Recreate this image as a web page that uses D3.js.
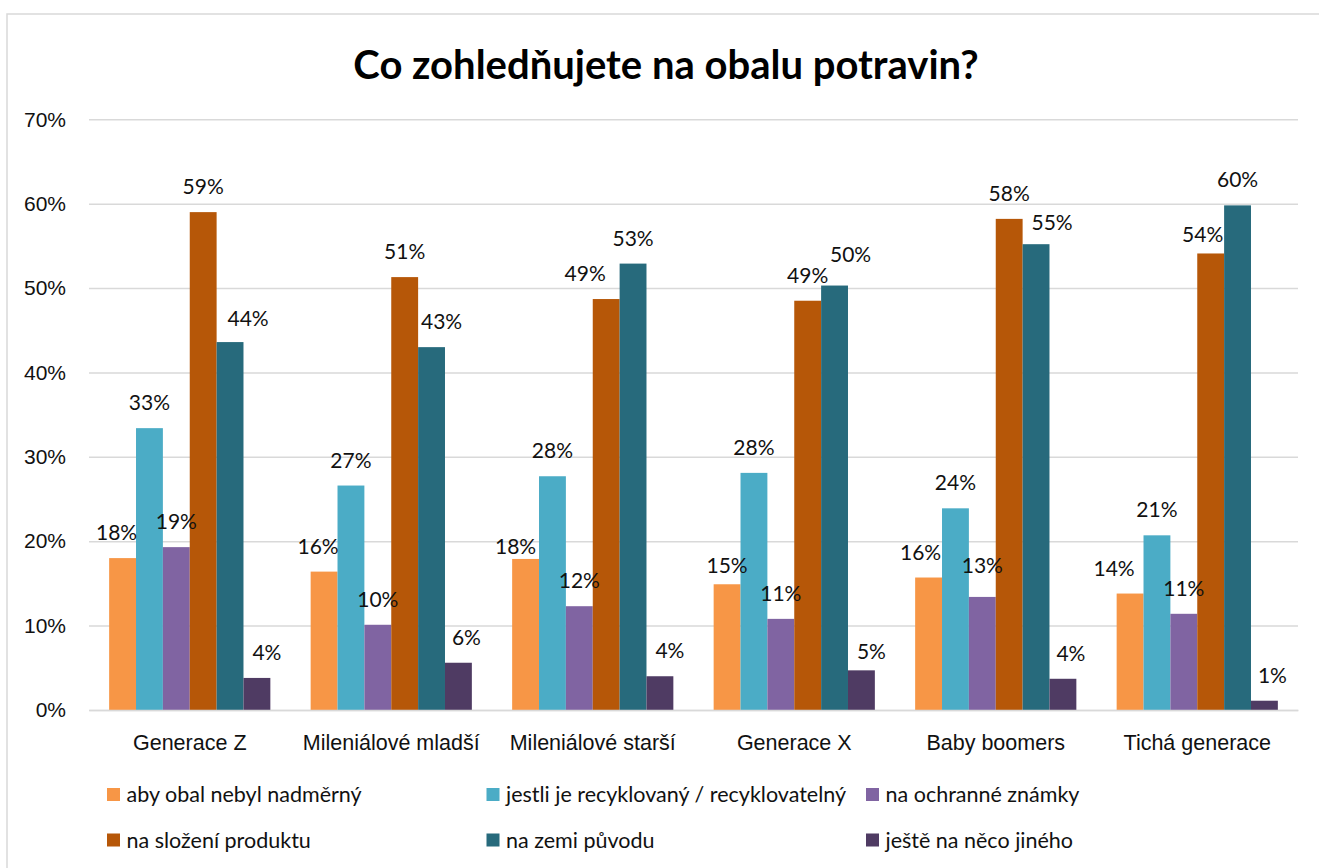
<!DOCTYPE html>
<html>
<head>
<meta charset="utf-8">
<script src="https://cdn.jsdelivr.net/npm/d3@7"></script>
<style>
  body { margin: 0; background: #fff; }
  svg { display: block; font-family: "Lato", sans-serif; }
</style>
</head>
<body>
<svg></svg>
<script>
const categories = ["Generace Z", "Mileniálové mladší", "Mileniálové starší", "Generace X", "Baby boomers", "Tichá generace"];

const seriesNames = [
  "aby obal nebyl nadměrný",
  "jestli je recyklovaný / recyklovatelný",
  "na ochranné známky",
  "na složení produktu",
  "na zemi původu",
  "ještě na něco jiného"
];

// hodnoty v %
const abyObal = [18.0, 16.4, 17.9, 14.9, 15.7, 13.8];
const recyklovany = [33.4, 26.6, 27.7, 28.1, 23.9, 20.7];
const ochranneZnamky = [19.3, 10.1, 12.3, 10.8, 13.4, 11.4];
const slozeni = [59.0, 51.3, 48.7, 48.5, 58.2, 54.1];
const zemePuvodu = [43.6, 43.0, 52.9, 50.3, 55.2, 59.8];
const neCoJineho = [3.8, 5.6, 4.0, 4.7, 3.7, 1.1];

const yTicks = [0, 10, 20, 30, 40, 50, 60, 70];

const seriesValues = [abyObal, recyklovany, ochranneZnamky, slozeni, zemePuvodu, neCoJineho];
const colors = ["#F79646", "#4BACC6", "#8064A2", "#B65708", "#276A7C", "#4F3B63"];

// ručně posunuté popisky (kategorie,řada) -> [dx, dy]
const labelNudge = {
  "0,0": [-6, 0], "0,4": [18, 2], "0,5": [10, 0],
  "1,0": [-6, 0], "1,4": [10, 0], "1,5": [8, 0],
  "2,0": [-10, 13], "2,3": [-21, 0], "2,5": [10, 0],
  "3,0": [0, 7], "3,4": [16, -6], "3,5": [10, 7],
  "4,0": [-8, 0], "4,2": [0, -6], "4,4": [16, 4], "4,5": [8, 0],
  "5,0": [-16, 0], "5,3": [-8, 7], "5,5": [8, 0]
};

const width = 1319;
const height = 868;
const margin = { left: 89, right: 21, top: 119.3, bottom: 158 };

const svg = d3.select("svg").attr("width", width).attr("height", height);

// rámeček grafu
svg.append("rect")
  .attr("x", 7).attr("y", 14)
  .attr("width", 1400).attr("height", 1000)
  .attr("fill", "none")
  .attr("stroke", "#d9d9d9")
  .attr("stroke-width", 1.5);

svg.append("text")
  .attr("x", 666)
  .attr("y", 79)
  .attr("text-anchor", "middle")
  .style("font-size", "40px")
  .style("font-weight", "bold")
  .attr("fill", "#000")
  .text("Co zohledňujete na obalu potravin?");

const x0 = d3.scaleBand()
  .domain(categories)
  .range([margin.left, width - margin.right])
  .paddingInner(0.2)
  .paddingOuter(0.1);

const x1 = d3.scaleBand()
  .domain(d3.range(seriesNames.length))
  .range([0, x0.bandwidth()]);

const y = d3.scaleLinear()
  .domain([0, 70])
  .range([height - margin.bottom, margin.top]);

// osa y s mřížkou
const yAxis = svg.append("g")
  .attr("transform", `translate(${margin.left},0)`)
  .call(d3.axisLeft(y)
    .tickValues(yTicks)
    .tickSize(-(width - margin.left - margin.right))
    .tickPadding(23)
    .tickFormat(d => d + "%"));
yAxis.select(".domain").remove();
yAxis.selectAll(".tick line").attr("stroke", "#d9d9d9").attr("stroke-width", 1.5);
yAxis.selectAll(".tick text").style("font-size", "21px").attr("fill", "#111");

// sloupce
const groups = svg.append("g")
  .selectAll("g")
  .data(categories)
  .join("g")
  .attr("transform", d => `translate(${x0(d)},0)`);

groups.selectAll("rect")
  .data((c, i) => seriesValues.map((vals, s) => ({ s, i, v: vals[i] })))
  .join("rect")
  .attr("x", d => x1(d.s))
  .attr("y", d => y(d.v))
  .attr("width", x1.bandwidth())
  .attr("height", d => y(0) - y(d.v))
  .attr("fill", d => colors[d.s]);

groups.selectAll("text")
  .data((c, i) => seriesValues.map((vals, s) => ({ s, i, v: vals[i] })))
  .join("text")
  .attr("x", d => x1(d.s) + x1.bandwidth() / 2 + (labelNudge[d.i + "," + d.s] || [0, 0])[0])
  .attr("y", d => y(d.v) - 18 + (labelNudge[d.i + "," + d.s] || [0, 0])[1])
  .attr("text-anchor", "middle")
  .style("font-size", "21px")
  .attr("fill", "#111")
  .text(d => Math.round(d.v) + "%");

// osa x
const xAxis = svg.append("g")
  .attr("transform", `translate(0,${y(0)})`)
  .call(d3.axisBottom(x0).tickSize(0).tickPadding(25));
xAxis.select(".domain").attr("stroke", "#d9d9d9").attr("stroke-width", 1.5);
xAxis.selectAll(".tick text").style("font-size", "21.5px").attr("fill", "#111");

// legenda
const legend = svg.append("g")
  .selectAll("g")
  .data(seriesNames)
  .join("g")
  .attr("transform", (d, i) => `translate(${107 + (i % 3) * 379.5},${794.5 + Math.floor(i / 3) * 45.5})`);

legend.append("rect")
  .attr("x", 0).attr("y", -6.5)
  .attr("width", 13).attr("height", 13)
  .attr("fill", (d, i) => colors[i]);

legend.append("text")
  .attr("x", 19.5)
  .attr("dy", "0.35em")
  .style("font-size", "21.5px")
  .attr("fill", "#111")
  .text(d => d);
</script>
</body>
</html>
